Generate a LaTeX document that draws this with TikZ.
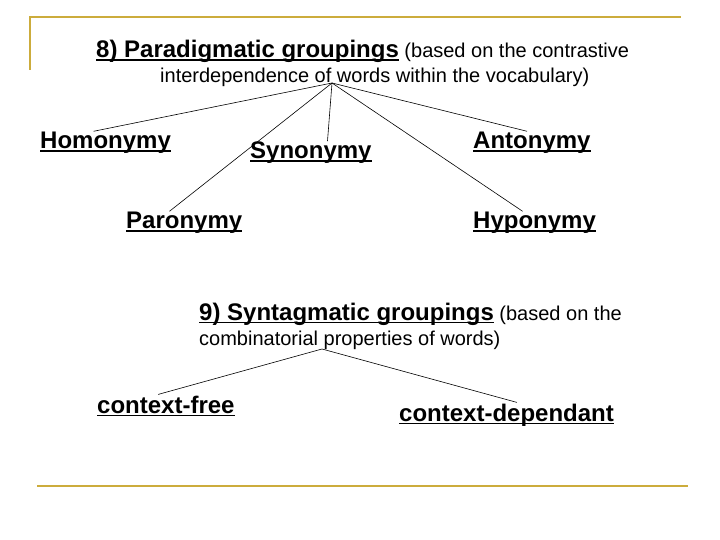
\documentclass[tikz,border=0pt]{standalone}
\usepackage{fontspec}
\setmainfont{Liberation Sans}
\definecolor{slidegold}{RGB}{204,172,60}
% underline drawn a little below the baseline
\newcommand{\undl}[1]{\setbox0\hbox{#1}\rlap{\rule[-3pt]{\wd0}{1.5pt}}\box0}

\begin{document}
\begin{tikzpicture}[x=1pt, y=-1pt,
    word/.style={anchor=base west, inner sep=1pt, font=\fontsize{24}{28}\selectfont\bfseries},
    head/.style={anchor=base west, inner sep=1pt, font=\fontsize{20}{24}\selectfont},
    branch/.style={draw=black, line width=0.6pt},
    rim/.style={draw=slidegold, line width=2pt}]

    % Page size
    \def\pw{720}
    \def\ph{540}
    \useasboundingbox[fill=white] (0,0) rectangle (\pw,\ph);

    % Slide frame
    \draw[rim] (30,70) -- (30,17) -- (681,17);
    \draw[rim] (37,486) -- (688,486);

    % 8) Paradigmatic groupings
    \node[head] (para) at (95,58) {{\fontsize{24}{28}\selectfont\bfseries\undl{8) Paradigmatic groupings}} (based on the contrastive};
    \node[head] (parab) at (159,83) {interdependence of words within the vocabulary)};
    \coordinate (root8) at (332,83);

    \node[word] (homo) at (39,149)  {\undl{Homonymy}};
    \node[word] (syno) at (249,159) {\undl{Synonymy}};
    \node[word] (anto) at (472,149) {\undl{Antonymy}};
    \node[word] (paro) at (125,229) {\undl{Paronymy}};
    \node[word] (hypo) at (472,229) {\undl{Hyponymy}};

    \foreach \n/\a in {homo/135, paro/141, syno/36, anto/112, hypo/135}
        \draw[branch] (root8) -- (\n.\a);

    % 9) Syntagmatic groupings
    \node[head] (synt) at (198,320) {{\fontsize{24}{28}\selectfont\bfseries\undl{9) Syntagmatic groupings}} (based on the};
    \node[head] (syntb) at (198,345) {combinatorial properties of words)};
    \coordinate (root9) at (322,349);

    \node[word] (free) at (96,413)  {\undl{context-free}};
    \node[word] (dep)  at (398,421) {\undl{context-dependant}};

    \draw[branch] (root9) -- (free.124);
    \draw[branch] (root9) -- (dep.50);

\end{tikzpicture}
\end{document}
